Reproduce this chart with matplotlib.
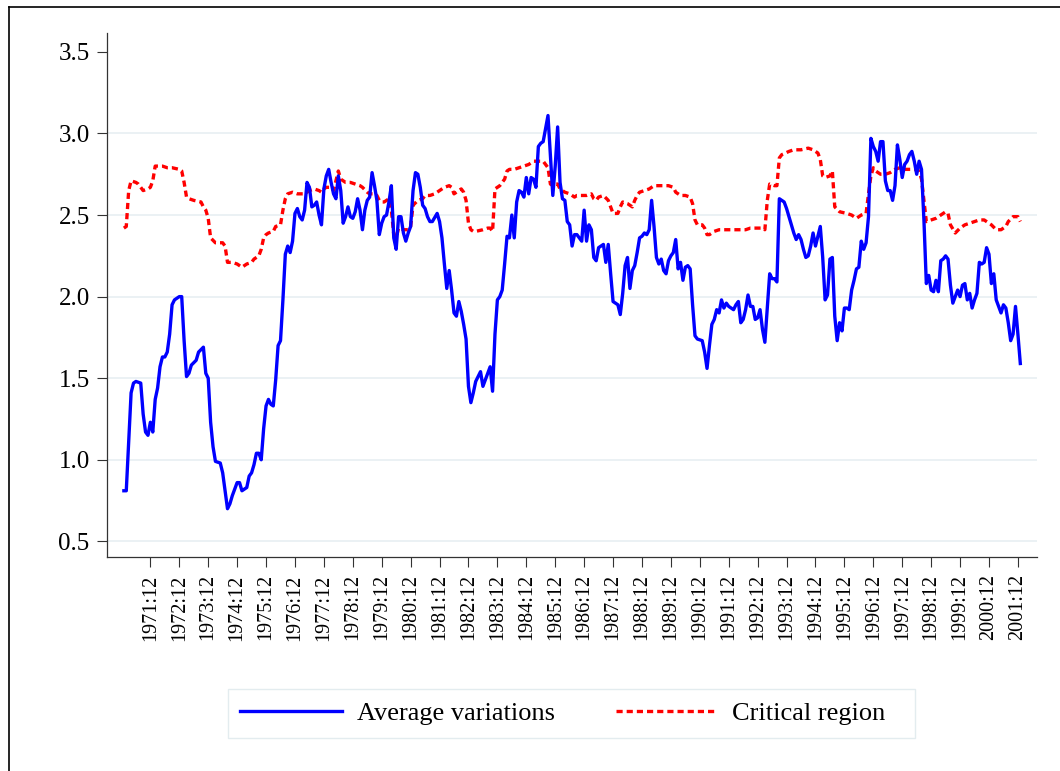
import matplotlib
matplotlib.use("Agg")
import matplotlib.pyplot as plt
from matplotlib.lines import Line2D
from matplotlib.patches import Rectangle

plt.rcParams['font.family'] = ['Liberation Serif', 'DejaVu Serif']

# month index: 0 = 1971:01
avg_month = [0, 1, 3, 4, 5, 7, 8, 9, 10, 11, 12, 13, 14, 15, 16, 17, 18, 19, 20, 21,
             23, 24, 25, 26, 27, 28, 30, 31, 33, 34, 35, 36, 37, 38, 40, 41, 42, 43, 44, 45,
             47, 48, 49, 50, 51, 52, 53, 54, 55, 56, 57, 58, 59, 60, 61, 62, 63, 64, 65, 66,
             67, 68, 69, 70, 71, 72, 73, 74, 75, 76, 77, 78, 79, 80, 81, 82, 83, 84, 85, 86,
             87, 88, 89, 90, 91, 92, 93, 94, 95, 96, 97, 98, 99, 100, 101, 102, 103, 104, 105, 106,
             107, 108, 109, 110, 111, 112, 113, 114, 115, 116, 117, 118, 119, 120, 121, 122, 123, 124, 125, 126,
             127, 128, 130, 131, 132, 133, 134, 135, 136, 137, 138, 139, 140, 141, 142, 143, 144, 145, 146, 148,
             149, 151, 152, 153, 154, 155, 156, 157, 158, 159, 160, 161, 162, 163, 164, 165, 166, 167, 168, 169,
             170, 171, 172, 173, 174, 175, 176, 177, 178, 179, 180, 181, 182, 183, 184, 185, 186, 187, 188, 189,
             190, 191, 192, 193, 194, 195, 196, 197, 198, 199, 200, 201, 202, 203, 204, 205, 206, 207, 208, 209,
             210, 211, 212, 213, 214, 215, 216, 217, 218, 219, 220, 221, 222, 223, 224, 225, 226, 227, 228, 229,
             230, 231, 232, 233, 234, 235, 236, 237, 238, 240, 241, 242, 243, 244, 245, 246, 247, 248, 249, 250,
             251, 252, 253, 254, 255, 256, 257, 258, 259, 260, 261, 262, 263, 264, 265, 266, 267, 268, 269, 270,
             271, 272, 273, 274, 275, 276, 277, 278, 279, 280, 281, 282, 283, 284, 285, 286, 287, 288, 289, 290,
             291, 292, 293, 294, 295, 296, 297, 298, 299, 300, 301, 302, 303, 304, 305, 306, 307, 308, 309, 310,
             311, 312, 313, 314, 315, 316, 317, 318, 319, 320, 321, 322, 323, 324, 325, 326, 327, 328, 329, 330,
             331, 332, 333, 334, 335, 336, 337, 338, 339, 340, 341, 342, 343, 344, 345, 346, 347, 348, 349, 350,
             351, 352, 353, 354, 355, 356, 357, 358, 359, 360, 361, 362, 363, 364, 365, 366, 367, 368, 369, 370,
             371, 372]
avg_value = [0.81, 0.81, 1.41, 1.47, 1.48, 1.47, 1.28, 1.17, 1.15, 1.23, 1.17, 1.37, 1.44, 1.57, 1.63, 1.63, 1.66, 1.77, 1.95, 1.98,
             2.00, 2.00, 1.73, 1.51, 1.53, 1.58, 1.61, 1.66, 1.69, 1.53, 1.50, 1.23, 1.08, 0.99, 0.98, 0.92, 0.81, 0.70, 0.73, 0.78,
             0.86, 0.86, 0.81, 0.82, 0.83, 0.90, 0.92, 0.97, 1.04, 1.04, 1.00, 1.19, 1.33, 1.37, 1.34, 1.33, 1.49, 1.70, 1.73, 1.98,
             2.26, 2.31, 2.27, 2.34, 2.51, 2.54, 2.49, 2.47, 2.53, 2.70, 2.67, 2.55, 2.56, 2.58, 2.50, 2.44, 2.66, 2.74, 2.78, 2.70,
             2.63, 2.60, 2.74, 2.65, 2.45, 2.49, 2.55, 2.49, 2.48, 2.52, 2.60, 2.53, 2.41, 2.53, 2.59, 2.61, 2.76, 2.68, 2.59, 2.38,
             2.45, 2.49, 2.50, 2.58, 2.68, 2.36, 2.29, 2.49, 2.49, 2.39, 2.34, 2.39, 2.43, 2.65, 2.76, 2.75, 2.67, 2.56, 2.54, 2.49,
             2.46, 2.46, 2.51, 2.46, 2.36, 2.20, 2.05, 2.16, 2.04, 1.90, 1.88, 1.97, 1.91, 1.83, 1.74, 1.45, 1.35, 1.41, 1.48, 1.54,
             1.45, 1.53, 1.57, 1.42, 1.77, 1.98, 2.00, 2.04, 2.20, 2.37, 2.36, 2.50, 2.36, 2.58, 2.65, 2.64, 2.61, 2.73, 2.63, 2.73,
             2.72, 2.67, 2.92, 2.94, 2.95, 3.03, 3.11, 2.86, 2.62, 2.80, 3.04, 2.70, 2.60, 2.59, 2.46, 2.44, 2.31, 2.38, 2.38, 2.36,
             2.34, 2.53, 2.34, 2.44, 2.41, 2.24, 2.22, 2.30, 2.31, 2.32, 2.21, 2.32, 2.14, 1.97, 1.96, 1.95, 1.89, 2.02, 2.19, 2.24,
             2.05, 2.16, 2.19, 2.27, 2.36, 2.37, 2.39, 2.38, 2.41, 2.59, 2.43, 2.24, 2.20, 2.23, 2.16, 2.14, 2.22, 2.25, 2.27, 2.35,
             2.17, 2.21, 2.10, 2.18, 2.19, 2.17, 1.95, 1.76, 1.74, 1.73, 1.66, 1.56, 1.70, 1.83, 1.86, 1.92, 1.90, 1.98, 1.93, 1.96,
             1.94, 1.93, 1.92, 1.95, 1.97, 1.84, 1.86, 1.92, 2.01, 1.94, 1.94, 1.86, 1.87, 1.92, 1.80, 1.72, 1.93, 2.14, 2.11, 2.11,
             2.09, 2.60, 2.59, 2.58, 2.54, 2.49, 2.44, 2.39, 2.35, 2.38, 2.35, 2.29, 2.24, 2.25, 2.31, 2.39, 2.31, 2.37, 2.43, 2.24,
             1.98, 2.01, 2.23, 2.24, 1.88, 1.73, 1.84, 1.79, 1.93, 1.93, 1.92, 2.04, 2.10, 2.17, 2.18, 2.34, 2.29, 2.33, 2.49, 2.97,
             2.92, 2.89, 2.83, 2.95, 2.95, 2.71, 2.65, 2.65, 2.59, 2.68, 2.93, 2.84, 2.73, 2.81, 2.83, 2.87, 2.89, 2.83, 2.75, 2.83,
             2.78, 2.47, 2.08, 2.13, 2.04, 2.03, 2.10, 2.03, 2.22, 2.23, 2.25, 2.23, 2.07, 1.96, 2.00, 2.04, 2.00, 2.07, 2.08, 1.98,
             2.02, 1.93, 1.98, 2.02, 2.21, 2.20, 2.21, 2.30, 2.26, 2.08, 2.14, 1.98, 1.94, 1.90, 1.95, 1.93, 1.84, 1.73, 1.77, 1.94,
             1.77, 1.59]

crit_month = [0, 1, 2, 3, 5, 6, 7, 8, 10, 11, 12, 13, 14, 16, 18, 20, 23, 24, 25, 26,
              27, 29, 32, 33, 34, 35, 36, 38, 41, 42, 43, 45, 47, 49, 51, 53, 54, 56, 57, 58,
              59, 60, 62, 63, 65, 66, 67, 68, 70, 72, 75, 77, 79, 81, 82, 83, 84, 86, 87, 88,
              89, 90, 92, 94, 96, 98, 99, 101, 102, 104, 105, 106, 107, 108, 110, 111, 112, 113, 114, 116,
              118, 119, 120, 122, 124, 125, 127, 129, 131, 133, 135, 136, 137, 138, 140, 141, 142, 143, 144, 145,
              146, 149, 151, 152, 153, 154, 156, 158, 159, 160, 162, 164, 166, 168, 170, 172, 174, 175, 176, 177,
              178, 179, 180, 181, 183, 185, 187, 188, 190, 192, 194, 195, 196, 197, 199, 201, 202, 203, 205, 206,
              207, 209, 211, 212, 213, 214, 216, 218, 220, 221, 224, 226, 228, 229, 231, 233, 235, 236, 237, 238,
              240, 241, 242, 243, 245, 247, 250, 252, 255, 258, 260, 263, 265, 266, 267, 268, 270, 271, 272, 273,
              276, 278, 281, 284, 286, 288, 289, 290, 291, 293, 294, 295, 297, 300, 302, 304, 306, 308, 309, 310,
              311, 312, 314, 316, 318, 320, 322, 324, 326, 328, 330, 331, 332, 333, 335, 337, 339, 341, 342, 343,
              345, 347, 349, 351, 353, 355, 357, 359, 360, 362, 364, 366, 367, 369, 371, 372]
crit_value = [2.42, 2.43, 2.65, 2.71, 2.70, 2.69, 2.67, 2.65, 2.66, 2.67, 2.71, 2.80, 2.80, 2.80, 2.79, 2.79, 2.78, 2.77, 2.70, 2.61,
              2.60, 2.59, 2.58, 2.55, 2.53, 2.48, 2.36, 2.33, 2.33, 2.31, 2.21, 2.21, 2.20, 2.18, 2.20, 2.21, 2.23, 2.25, 2.29, 2.36,
              2.38, 2.39, 2.40, 2.43, 2.44, 2.53, 2.60, 2.63, 2.64, 2.63, 2.63, 2.65, 2.66, 2.65, 2.64, 2.66, 2.67, 2.67, 2.65, 2.71,
              2.77, 2.72, 2.70, 2.70, 2.69, 2.68, 2.67, 2.64, 2.63, 2.63, 2.62, 2.59, 2.58, 2.58, 2.60, 2.53, 2.38, 2.36, 2.42, 2.41,
              2.41, 2.43, 2.56, 2.59, 2.60, 2.62, 2.62, 2.63, 2.65, 2.67, 2.68, 2.67, 2.63, 2.64, 2.66, 2.64, 2.59, 2.45, 2.41, 2.40,
              2.40, 2.41, 2.42, 2.42, 2.40, 2.66, 2.68, 2.72, 2.77, 2.78, 2.78, 2.79, 2.80, 2.81, 2.83, 2.83, 2.83, 2.81, 2.79, 2.69,
              2.68, 2.69, 2.69, 2.66, 2.64, 2.63, 2.61, 2.62, 2.62, 2.62, 2.63, 2.60, 2.59, 2.61, 2.62, 2.59, 2.55, 2.51, 2.51, 2.55,
              2.58, 2.57, 2.55, 2.59, 2.62, 2.64, 2.65, 2.66, 2.68, 2.68, 2.68, 2.68, 2.67, 2.64, 2.62, 2.62, 2.61, 2.57, 2.47, 2.44,
              2.44, 2.42, 2.38, 2.38, 2.40, 2.41, 2.41, 2.41, 2.41, 2.41, 2.42, 2.42, 2.42, 2.41, 2.59, 2.69, 2.68, 2.68, 2.85, 2.87,
              2.89, 2.90, 2.90, 2.91, 2.90, 2.88, 2.84, 2.74, 2.73, 2.74, 2.77, 2.55, 2.52, 2.51, 2.50, 2.48, 2.50, 2.51, 2.63, 2.74,
              2.79, 2.77, 2.75, 2.75, 2.76, 2.78, 2.79, 2.78, 2.78, 2.78, 2.77, 2.72, 2.59, 2.46, 2.47, 2.48, 2.50, 2.52, 2.51, 2.44,
              2.39, 2.42, 2.44, 2.45, 2.46, 2.47, 2.47, 2.45, 2.44, 2.41, 2.41, 2.43, 2.46, 2.49, 2.49, 2.46]

tick_months = [11 + 12 * k for k in range(31)]
tick_labels = [f"{1971 + k}:12" for k in range(31)]
y_ticks = [0.5, 1.0, 1.5, 2.0, 2.5, 3.0, 3.5]
grid_levels = [0.5, 1.0, 1.5, 2.0, 2.5, 3.0]

W, H = 1060, 771
fig = plt.figure(figsize=(W / 100, H / 100), dpi=100)
fig.patch.set_facecolor('white')
ax = fig.add_axes([107 / W, 1 - 557 / H, (1036.7 - 107) / W, (557 - 33.3) / H])

for g in grid_levels:
    ax.axhline(g, color='#E6EEF1', lw=1.1, zorder=0)

l1, = ax.plot(avg_month, avg_value, color='#0000FF', lw=2.4, zorder=3,
              solid_joinstyle='round', label='Average variations')
l2, = ax.plot(crit_month, crit_value, color='#FF0000', lw=2.4, ls=(0, (1.85, 1.2)),
              zorder=2, label='Critical region')

ax.set_xlim(-7.0, 378.8)
ax.set_ylim(0.404, 3.614)
ax.set_yticks(y_ticks)
ax.set_yticklabels([f"{v:.1f}" for v in y_ticks])
ax.set_xticks(tick_months)
ax.set_xticklabels(tick_labels, rotation=90)

for s in ['top', 'right']:
    ax.spines[s].set_visible(False)
for s in ['left', 'bottom']:
    ax.spines[s].set_color('#333333')
    ax.spines[s].set_linewidth(0.9)

ax.tick_params(axis='y', direction='out', length=7.5, width=0.8, color='#333333',
               pad=5, labelsize=18, labelcolor='black')
ax.tick_params(axis='x', direction='out', length=7.5, width=0.8, color='#333333',
               pad=5, labelsize=14.5, labelcolor='black')

# legend
fig.legend(handles=[l1, l2], loc='center left', bbox_to_anchor=(240 / W, 1 - 713.3 / H),
           frameon=False, ncol=2, fontsize=19, handlelength=3.85, handletextpad=0.57,
           columnspacing=2.32, borderpad=0, borderaxespad=0)
fig.add_artist(Rectangle((228 / W, 1 - 738 / H), (915 - 228) / W, 49 / H,
                         transform=fig.transFigure, fill=False,
                         edgecolor='#E3ECEF', lw=1.0))

# outer frame (top and left visible)
fig.add_artist(Line2D([9 / W, 9 / W], [0, 1 - 7 / H], transform=fig.transFigure,
                      color='black', lw=1.2))
fig.add_artist(Line2D([9 / W, 1], [1 - 7 / H, 1 - 7 / H], transform=fig.transFigure,
                      color='black', lw=1.2))

fig.savefig('out.png', dpi=100)
